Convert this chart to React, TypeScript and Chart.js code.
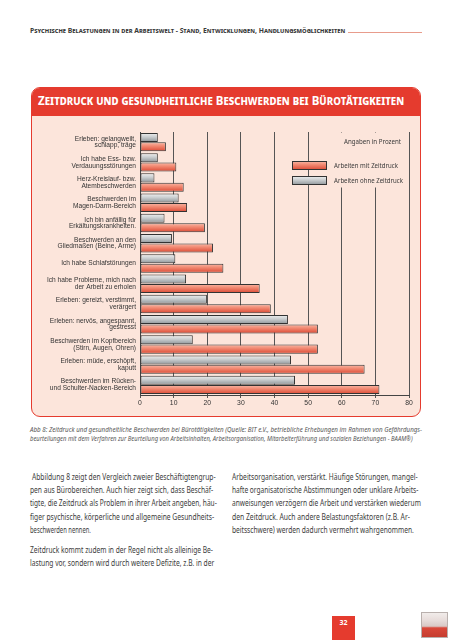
import React, { useEffect, useLayoutEffect, useRef, useState } from "react";
import { Chart, registerables } from "chart.js";

Chart.register(...registerables);

// ---------- DATA ----------
const categories: string[][] = [
  ["Erleben: gelangweilt,", "schlapp, träge"],
  ["Ich habe Ess- bzw.", "Verdauungsstörungen"],
  ["Herz-Kreislauf- bzw.", "Atembeschwerden"],
  ["Beschwerden im", "Magen-Darm-Bereich"],
  ["Ich bin anfällig für", "Erkältungskrankheiten."],
  ["Beschwerden an den", "Gliedmaßen (Beine, Arme)"],
  ["Ich habe Schlafstörungen"],
  ["Ich habe Probleme, mich nach", "der Arbeit zu erholen"],
  ["Erleben: gereizt, verstimmt,", "verärgert"],
  ["Erleben: nervös, angespannt,", "gestresst"],
  ["Beschwerden im Kopfbereich", "(Stirn, Augen, Ohren)"],
  ["Erleben: müde, erschöpft,", "kaputt"],
  ["Beschwerden im Rücken-", "und Schulter-Nacken-Bereich"],
];
const ohneZeitdruck: number[] = [5.3, 5.3, 4.3, 11.5, 7.3, 9.5, 10.5, 13.7, 19.9, 44, 15.7, 44.9, 46.1];
const mitZeitdruck: number[] = [7.7, 10.8, 13, 14, 19.3, 21.7, 24.8, 35.6, 38.9, 52.9, 52.9, 66.8, 71.2];
const seriesOhne = "Arbeiten ohne Zeitdruck";
const seriesMit = "Arbeiten mit Zeitdruck";
const unitNote = "Angaben in Prozent";
const xMin = 0;
const xMax = 80;
const xStep = 10;

// ---------- STYLE ----------
const PINK = "#fce5db";
const RED = "#e53b2e";
const RED_STOPS: [number, string][] = [
  [0, "#f8b9a8"],
  [0.4, "#f28a73"],
  [1, "#db4934"],
];
const GREY_STOPS: [number, string][] = [
  [0, "#f0f1f1"],
  [0.45, "#c9cdcf"],
  [1, "#8e9599"],
];
const CHART_FONT = '"Liberation Sans", Arial, sans-serif';
const TEXT_FONT = '"Noto Sans", "Open Sans", sans-serif';

function grad(ctx: CanvasRenderingContext2D, top: number, bottom: number, stops: [number, string][]) {
  const g = ctx.createLinearGradient(0, top, 0, bottom);
  stops.forEach(([o, c]) => g.addColorStop(o, c));
  return g;
}

const decorPlugin = {
  id: "decor",
  beforeDatasetsDraw(chart: any) {
    const ctx: CanvasRenderingContext2D = chart.ctx;
    const a = chart.chartArea;
    // legend backdrop (hides grid lines behind the legend)
    ctx.save();
    ctx.fillStyle = PINK;
    ctx.fillRect(312, a.top + 0.5, 94, 72 - a.top);
    ctx.restore();
    // gradients for bars
    chart.data.datasets.forEach((_ds: any, di: number) => {
      const meta = chart.getDatasetMeta(di);
      meta.data.forEach((el: any) => {
        const { y, height } = el.getProps(["y", "height"], true);
        const g = grad(ctx, y - height / 2, y + height / 2, di === 0 ? GREY_STOPS : RED_STOPS);
        el.options = Object.assign({}, el.options, { backgroundColor: g });
      });
    });
  },
  afterDatasetsDraw(chart: any) {
    const ctx: CanvasRenderingContext2D = chart.ctx;
    ctx.save();
    ctx.fillStyle = "#3a3a3a";
    ctx.textBaseline = "middle";
    ctx.textAlign = "left";
    ctx.font = '7px "Noto Sans", sans-serif';
    ctx.fillText(unitNote, 344, 27, 57);
    const items: [string, [number, string][], number, number][] = [
      [seriesMit, RED_STOPS, 46, 64],
      [seriesOhne, GREY_STOPS, 61, 69],
    ];
    items.forEach(([label, stops, top, w]) => {
      const h = 9;
      ctx.fillStyle = grad(ctx, top, top + h, stops);
      ctx.fillRect(292, top, 35, h);
      ctx.strokeStyle = "#333";
      ctx.lineWidth = 1;
      ctx.strokeRect(292.5, top + 0.5, 34, h - 1);
      ctx.fillStyle = "#3a3a3a";
      ctx.fillText(label, 334, top + h / 2, w);
    });
    ctx.restore();
  },
};

function BarChart() {
  const ref = useRef<HTMLCanvasElement>(null);
  useEffect(() => {
    if (!ref.current) return;
    const chart = new Chart(ref.current, {
      type: "bar",
      data: {
        labels: categories,
        datasets: [
          {
            label: seriesOhne,
            data: ohneZeitdruck,
            backgroundColor: "#c9cdcf",
            borderColor: "#333",
            borderWidth: 1,
            borderSkipped: false,
            categoryPercentage: 0.93,
            barPercentage: 0.96,
          },
          {
            label: seriesMit,
            data: mitZeitdruck,
            backgroundColor: "#f28a73",
            borderColor: "#333",
            borderWidth: 1,
            borderSkipped: false,
            categoryPercentage: 0.93,
            barPercentage: 0.96,
          },
        ],
      },
      options: {
        indexAxis: "y",
        animation: false,
        responsive: false,
        devicePixelRatio: 1,
        layout: { padding: { top: 17, right: 43, bottom: 0, left: 0 } },
        plugins: { legend: { display: false }, tooltip: { enabled: false } },
        scales: {
          x: {
            min: xMin,
            max: xMax,
            ticks: { stepSize: xStep, color: "#333", font: { family: CHART_FONT, size: 6.8 }, padding: 1 },
            grid: { color: "#555", lineWidth: 1, drawTicks: true, tickLength: 3, tickColor: "#555" },
            border: { color: "#444", width: 1 },
            afterFit: (s: any) => {
              s.height = 20;
            },
          },
          y: {
            ticks: {
              color: "#333",
              font: { family: CHART_FONT, size: 6.6, lineHeight: 1.02 },
              padding: 4,
              autoSkip: false,
            },
            grid: { display: false, drawTicks: false },
            border: { color: "#444", width: 1 },
            afterFit: (s: any) => {
              s.width = 140;
            },
          },
        },
      },
      plugins: [decorPlugin],
    } as any);
    return () => chart.destroy();
  }, []);
  return (
    <canvas
      ref={ref}
      width={452}
      height={300}
      style={{ position: "absolute", left: 0, top: 115, width: 452, height: 300 }}
    />
  );
}

type FitProps = {
  x: number;
  y: number;
  w: number;
  size: number;
  children: React.ReactNode;
  color?: string;
  weight?: number | string;
  italic?: boolean;
  caps?: boolean;
  family?: string;
};

function Fit({ x, y, w, size, children, color = "#3c3c3c", weight = 400, italic, caps, family = TEXT_FONT }: FitProps) {
  const ref = useRef<HTMLSpanElement>(null);
  const [s, setS] = useState(1);
  useLayoutEffect(() => {
    const el = ref.current;
    if (!el) return;
    const nat = el.offsetWidth;
    if (nat > 0) setS(w / nat);
  }, [w, children]);
  return (
    <span
      ref={ref}
      style={{
        position: "absolute",
        left: x,
        top: y,
        whiteSpace: "pre",
        fontFamily: family,
        fontSize: size,
        fontWeight: weight as any,
        fontStyle: italic ? "italic" : "normal",
        fontVariant: caps ? "small-caps" : "normal",
        color,
        lineHeight: 1.2,
        transform: `translateY(-50%) scaleX(${s})`,
        transformOrigin: "left center",
      }}
    >
      {children}
    </span>
  );
}

const col1: [string, number][] = [
  ["Abbildung 8 zeigt den Vergleich zweier Beschäftigtengrup-", 184],
  ["pen aus Bürobereichen. Auch hier zeigt sich, dass Beschäf-", 183],
  ["tigte, die Zeitdruck als Problem in ihrer Arbeit angeben, häu-", 187],
  ["figer psychische, körperliche und allgemeine Gesundheits-", 184],
  ["beschwerden nennen.", 61],
];
const col2: [string, number][] = [
  ["Arbeitsorganisation, verstärkt. Häufige Störungen, mangel-", 186],
  ["hafte organisatorische Abstimmungen oder unklare Arbeits-", 186],
  ["anweisungen verzögern die Arbeit und verstärken wiederum", 189],
  ["den Zeitdruck. Auch andere Belastungsfaktoren (z.B. Ar-", 178],
  ["beitsschwere) werden dadurch vermehrt wahrgenommen.", 182],
];
const para2: [string, number][] = [
  ["Zeitdruck kommt zudem in der Regel nicht als alleinige Be-", 183],
  ["lastung vor, sondern wird durch weitere Defizite, z.B. in der", 184],
];
const lineYs = [477, 490, 503.3, 516.6, 530];

export default function App() {
  return (
    <div
      style={{
        position: "absolute",
        left: 0,
        top: 0,
        width: 452,
        height: 640,
        background: "#fff",
        overflow: "hidden",
      }}
    >
      <Fit x={30} y={31} w={315} size={7} weight={700} caps color="#3a3a3a">
        Psychische Belastungen in der Arbeitswelt - Stand, Entwicklungen, Handlungsmöglichkeiten
      </Fit>
      <div style={{ position: "absolute", left: 348, top: 32, width: 74, height: 1, background: "#e89c8c" }} />

      <div
        style={{
          position: "absolute",
          left: 31,
          top: 87,
          width: 390,
          height: 330,
          boxSizing: "border-box",
          border: `1px solid ${RED}`,
          borderRadius: 9,
          background: PINK,
          overflow: "hidden",
        }}
      >
        <div style={{ position: "absolute", left: 0, top: 0, right: 0, height: 28, background: RED }} />
      </div>
      <Fit x={38} y={101} w={366} size={13} weight={700} caps color="#ffffff">
        Zeitdruck und gesundheitliche Beschwerden bei Bürotätigkeiten
      </Fit>

      <BarChart />

      <Fit x={30} y={430} w={392} size={6.4} italic color="#555">
        Abb 8: Zeitdruck und gesundheitliche Beschwerden bei Bürotätigkeiten (Quelle: BIT e.V., betriebliche Erhebungen im Rahmen von Gefährdungs-
      </Fit>
      <Fit x={30} y={438.5} w={383} size={6.4} italic color="#555">
        beurteilungen mit dem Verfahren zur Beurteilung von Arbeitsinhalten, Arbeitsorganisation, Mitarbeiterführung und sozialen Beziehungen - BAAM®)
      </Fit>

      {col1.map(([t, w], i) => (
        <Fit key={"a" + i} x={i === 0 ? 32 : 30} y={lineYs[i]} w={w} size={9}>
          {t}
        </Fit>
      ))}
      {col2.map(([t, w], i) => (
        <Fit key={"b" + i} x={231.5} y={lineYs[i]} w={w} size={9}>
          {t}
        </Fit>
      ))}
      {para2.map(([t, w], i) => (
        <Fit key={"c" + i} x={30} y={550 + i * 13} w={w} size={9}>
          {t}
        </Fit>
      ))}

      <div
        style={{
          position: "absolute",
          left: 332,
          top: 616,
          width: 23,
          height: 24,
          background: RED,
          color: "#fff",
          fontFamily: TEXT_FONT,
          fontWeight: 700,
          fontSize: 7,
          textAlign: "center",
          lineHeight: "14px",
        }}
      >
        32
      </div>
      <div
        style={{
          position: "absolute",
          left: 421,
          top: 612,
          width: 27,
          height: 26,
          boxSizing: "border-box",
          border: "1px solid #b9b0ad",
          background:
            "linear-gradient(to bottom, #f1ecea 0%, #e7dcda 30%, #d8c9c6 55%, #d9483a 62%, #c53d2f 100%)",
        }}
      />
    </div>
  );
}
